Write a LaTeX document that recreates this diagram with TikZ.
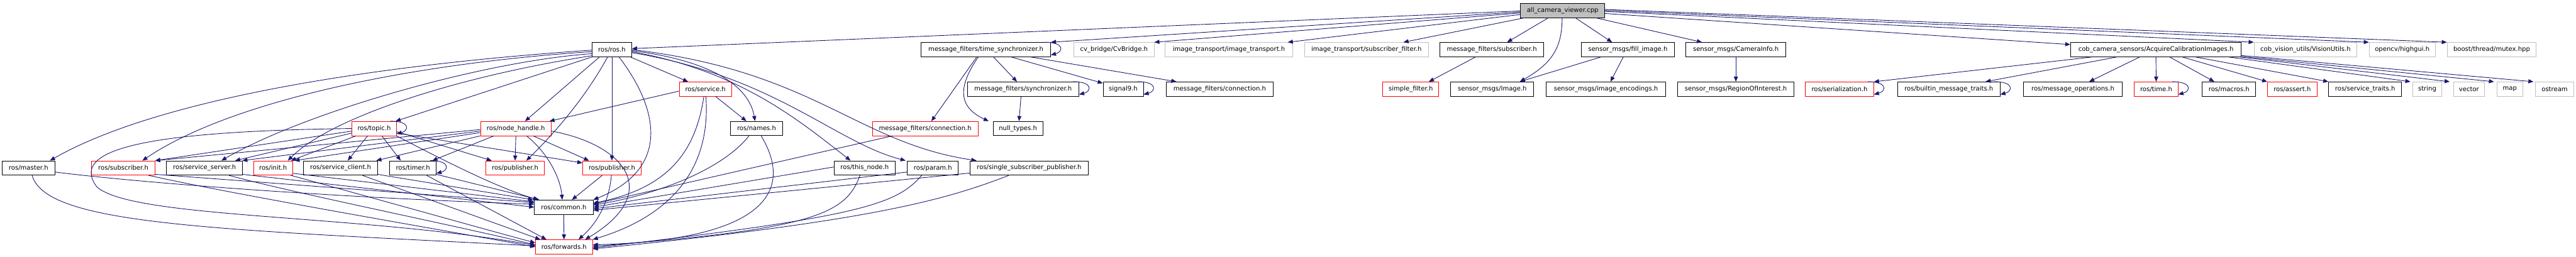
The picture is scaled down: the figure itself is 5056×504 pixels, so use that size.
\documentclass[tikz,border=0pt]{standalone}
\usepackage{fontspec}
\newfontfamily\dv{DejaVu Sans}
\usetikzlibrary{arrows.meta,calc}
\definecolor{eblue}{RGB}{25,25,112}
\definecolor{gry}{RGB}{191,191,191}
\definecolor{rd}{RGB}{255,0,0}
\tikzset{
  nb/.style={draw=black, line width=1.1pt, minimum height=28pt, inner sep=0pt, font=\dv\fontsize{12.4pt}{15pt}\selectfont, text=black},
  nr/.style={nb, draw=rd, line width=0.9pt},
  ng/.style={nb, draw=gry, line width=1pt},
  e/.style={draw=eblue, line width=1.1pt, -{Triangle[length=10pt,width=8pt]}},
}
\newcommand{\slp}[1]{\draw[e] ($(#1.north east)+(-12,0)$) .. controls +(40,0) and +(24,-6) .. ($(#1.south east)+(0,-4)$);}
\begin{document}
\begin{tikzpicture}[x=1pt,y=-1pt]
\useasboundingbox (0,0) rectangle (5056,504);
% Row A
\node[nb, minimum width=165pt, fill=gry] (R) at (3067,20.5) {all\_camera\_viewer.cpp};
% Row B
\node[nb, minimum width=78pt] (ros) at (1201,97.5) {ros/ros.h};
\node[nb, minimum width=254pt] (tsync) at (1935,97.5) {message\_filters/time\_synchronizer.h};
\node[ng, minimum width=157pt] (cvb) at (2186.5,97.5) {cv\_bridge/CvBridge.h};
\node[ng, minimum width=250pt] (itr) at (2412,97.5) {image\_transport/image\_transport.h};
\node[ng, minimum width=244pt] (isf) at (2682,97.5) {image\_transport/subscriber\_filter.h};
\node[nb, minimum width=203pt] (mfs) at (2928,97.5) {message\_filters/subscriber.h};
\node[nb, minimum width=183pt] (fill) at (3195,97.5) {sensor\_msgs/fill\_image.h};
\node[nb, minimum width=196pt] (caminfo) at (3407,97.5) {sensor\_msgs/CameraInfo.h};
\node[nb, minimum width=335pt] (acq) at (4231.5,97.5) {cob\_camera\_sensors/AcquireCalibrationImages.h};
\node[ng, minimum width=202pt] (vis) at (4525,97.5) {cob\_vision\_utils/VisionUtils.h};
\node[ng, minimum width=130pt] (hg) at (4715,97.5) {opencv/highgui.h};
\node[ng, minimum width=175pt] (mutex) at (4890.5,97.5) {boost/thread/mutex.hpp};
% Row C
\node[nr, minimum width=103pt] (srv) at (1384.5,175) {ros/service.h};
\node[nb, minimum width=219pt] (sync) at (2008,175) {message\_filters/synchronizer.h};
\node[nb, minimum width=79pt] (sig9) at (2204.5,175) {signal9.h};
\node[nb, minimum width=209pt] (mfc2) at (2394,175) {message\_filters/connection.h};
\node[nr, minimum width=110pt] (sf) at (2769,175) {simple\_filter.h};
\node[nb, minimum width=163pt] (img) at (2929,175) {sensor\_msgs/Image.h};
\node[nb, minimum width=235pt] (enc) at (3152,175) {sensor\_msgs/image\_encodings.h};
\node[nb, minimum width=228pt] (roi) at (3407,175) {sensor\_msgs/RegionOfInterest.h};
\node[nr, minimum width=134pt] (ser) at (3610.5,175) {ros/serialization.h};
\node[nb, minimum width=201pt] (bmt) at (3825,175) {ros/builtin\_message\_traits.h};
\node[nb, minimum width=193pt] (mops) at (4068.5,175) {ros/message\_operations.h};
\node[nr, minimum width=86pt] (rtime) at (4232,175) {ros/time.h};
\node[nb, minimum width=105pt] (mac) at (4375,175) {ros/macros.h};
\node[nr, minimum width=97pt] (ast) at (4499,175) {ros/assert.h};
\node[nb, minimum width=143pt] (svt) at (4642,175) {ros/service\_traits.h};
\node[ng, minimum width=57pt] (str) at (4764,175) {string};
\node[ng, minimum width=61pt] (vec) at (4846,175) {vector};
\node[ng, minimum width=51pt] (mapn) at (4926,175) {map};
\node[ng, minimum width=76pt] (ost) at (5014,175) {ostream};
% Row D
\node[nr, minimum width=87pt] (topic) at (734.5,252.5) {ros/topic.h};
\node[nr, minimum width=139pt] (nh) at (1012.5,252.5) {ros/node\_handle.h};
\node[nb, minimum width=102pt] (names) at (1485,252.5) {ros/names.h};
\node[nr, minimum width=208pt] (mfc) at (1816,252.5) {message\_filters/connection.h};
\node[nb, minimum width=98pt] (nullt) at (1998,252.5) {null\_types.h};
% Row E
\node[nb, minimum width=103pt] (master) at (56,330) {ros/master.h};
\node[nr, minimum width=124pt] (sub) at (242,330) {ros/subscriber.h};
\node[nb, minimum width=149pt] (ss) at (401.5,330) {ros/service\_server.h};
\node[nr, minimum width=77pt] (init) at (536,330) {ros/init.h};
\node[nb, minimum width=145pt] (sc) at (668.5,330) {ros/service\_client.h};
\node[nb, minimum width=91pt] (timer) at (810.5,330) {ros/timer.h};
\node[nr, minimum width=115pt] (pub1) at (1011,330) {ros/publisher.h};
\node[nr, minimum width=115pt] (pub2) at (1201,330) {ros/publisher.h};
\node[nb, minimum width=120pt] (tnode) at (1697,330) {ros/this\_node.h};
\node[nb, minimum width=100pt] (param) at (1831,330) {ros/param.h};
\node[nb, minimum width=232pt] (ssp) at (2020,330) {ros/single\_subscriber\_publisher.h};
% Row F, G
\node[nb, minimum width=115pt] (common) at (1106.5,407) {ros/common.h};
\node[nr, minimum width=112pt] (fwd) at (1107,485) {ros/forwards.h};

% ---- edges from root
\draw[e] ($(R.west)+(0,1)$) -- ($(ros.east)+(0,-2)$);
\draw[e] ($(R.west)+(0,3)$) -- (tsync.north east);
\draw[e] ($(R.west)+(0,5)$) -- (cvb.north east);
\draw[e] ($(R.west)+(0,8)$) -- ($(itr.north east)+(-10,0)$);
\draw[e] ($(R.south west)+(8,0)$) -- ($(isf.north east)+(-50,0)$);
\draw[e] ($(R.south west)+(55,0)$) -- ($(mfs.north east)+(-72,0)$);
\draw[e] ($(R.south)+(-1,0)$) .. controls (3066,95) and (3045,125) .. ($(img.north east)+(-28,0)$);
\draw[e] ($(R.south)+(25,0)$) -- ($(fill.north)+(-31,0)$);
\draw[e] ($(R.south east)+(-18,0)$) -- ($(caminfo.north west)+(32,0)$);
\draw[e] ($(R.east)+(0,6)$) -- ($(acq.west)+(0,-10)$);
\draw[e] ($(R.east)+(0,2)$) -- (vis.north west);
\draw[e] ($(R.east)+(0,0)$) -- (hg.north west);
\draw[e] ($(R.east)+(0,-2)$) -- (mutex.north west);
% ---- Acquire
\draw[e] ($(acq.south west)+(42,0)$) -- (ser.north east);
\draw[e] ($(acq.south west)+(91,0)$) -- ($(bmt.north east)+(-29,0)$);
\draw[e] ($(acq.south)+(-32,0)$) -- ($(mops.north)+(32,0)$);
\draw[e] (acq.south) -- (rtime.north);
\draw[e] ($(acq.south)+(27,0)$) -- ($(mac.north)+(-29,0)$);
\draw[e] ($(acq.south)+(52,0)$) -- (ast.north west);
\draw[e] ($(acq.south)+(78,0)$) -- (svt.north west);
\draw[e] ($(acq.south east)+(-25,0)$) -- ($(str.north west)+(-4,0)$);
\draw[e] ($(acq.south east)+(-3,0)$) -- ($(vec.north west)+(-7,0)$);
\draw[e] ($(acq.south east)+(0,-1)$) -- ($(mapn.north west)+(-5,0)$);
\draw[e] ($(acq.south east)+(0,-3)$) -- ($(ost.north west)+(-3,0)$);
% ---- self loops
\slp{ser} \slp{bmt} \slp{rtime} \slp{tsync} \slp{sync} \slp{sig9} \slp{topic} \slp{timer}
% ---- ros.h
\draw[e] ($(ros.west)+(0,1)$) .. controls (700,130) and (300,200) .. ($(master.north east)+(-10,0)$);
\draw[e] ($(ros.west)+(0,4)$) .. controls (800,125) and (450,200) .. ($(sub.north east)+(-25,0)$);
\draw[e] ($(ros.west)+(0,8)$) .. controls (950,120) and (600,220) .. ($(ss.north east)+(-42,0)$);
\draw[e] ($(ros.west)+(0,12)$) .. controls (900,150) and (650,230) .. ($(init.north east)+(-10,0)$);
\draw[e] (ros.south west) -- ($(topic.north east)+(-2,0)$);
\draw[e] ($(ros.south west)+(15,0)$) -- ($(nh.north)+(18,0)$);
\draw[e] ($(ros.south west)+(31,0)$) .. controls (1150,190) and (1090,260) .. ($(pub1.north)+(22,0)$);
\draw[e] (ros.south) -- (pub2.north);
\draw[e] ($(ros.south)+(14,0)$) .. controls (1290,210) and (1320,330) .. (common.north east);
\draw[e] ($(ros.south east)+(-3,0)$) -- ($(srv.north west)+(18,0)$);
\draw[e] ($(ros.east)+(0,2)$) .. controls (1400,120) and (1470,170) .. ($(names.north)+(-3,0)$);
\draw[e] ($(ros.east)+(0,4)$) .. controls (1450,140) and (1560,230) .. ($(tnode.north west)+(33,0)$);
\draw[e] ($(ros.east)+(0,6)$) .. controls (1520,150) and (1640,280) .. ($(param.north west)+(-3,0)$);
\draw[e] (ros.east) .. controls (1600,140) and (1680,280) .. ($(ssp.north west)+(13,0)$);
% ---- topic.h
\draw[e] ($(topic.west)+(0,5)$) -- (sub.north east);
\draw[e] ($(topic.west)+(0,9)$) -- ($(ss.north east)+(-15,0)$);
\draw[e] ($(topic.south west)+(8,0)$) -- ($(init.north east)+(-4,0)$);
\draw[e] ($(topic.south)+(-13,0)$) -- ($(sc.north)+(14,0)$);
\draw[e] ($(topic.south)+(15,0)$) -- ($(timer.north)+(-24,0)$);
\draw[e] (topic.south east) .. controls (880,320) and (980,370) .. ($(common.north west)+(8,0)$);
\draw[e] ($(topic.east)+(0,6)$) -- ($(pub1.north west)+(12,0)$);
\draw[e] ($(topic.east)+(0,9)$) -- ($(pub2.west)+(0,-10)$);
\draw[e] (topic.west) .. controls (250,258) and (140,300) .. (190,367) .. controls (260,430) and (700,420) .. ($(fwd.west)+(0,-3)$);
% ---- node_handle.h
\draw[e] ($(nh.west)+(0,2)$) -- (sub.north east);
\draw[e] ($(nh.west)+(0,5)$) -- ($(ss.north east)+(-1,0)$);
\draw[e] ($(nh.west)+(0,8)$) -- ($(init.north east)+(3,0)$);
\draw[e] (nh.south west) -- ($(sc.north east)+(-3,0)$);
\draw[e] ($(nh.south west)+(27,0)$) -- ($(timer.north east)+(-8,0)$);
\draw[e] (nh.south) -- (pub1.north);
\draw[e] ($(nh.south east)+(-36,0)$) -- ($(pub2.north west)+(13,0)$);
\draw[e] ($(nh.south)+(21,0)$) .. controls (1075,300) and (1100,350) .. ($(common.north)+(-3,0)$);
\draw[e] ($(nh.east)+(0,5)$) .. controls (1230,285) and (1300,380) .. ($(fwd.north east)+(-15,0)$);
% ---- service.h
\draw[e] ($(srv.west)+(0,4)$) -- ($(nh.north east)+(-4,0)$);
\draw[e] ($(srv.south east)+(-32,0)$) -- ($(names.north)+(-20,0)$);
\draw[e] ($(srv.south)+(-3,0)$) .. controls (1365,300) and (1310,370) .. ($(common.east)+(0,-8)$);
\draw[e] ($(srv.south)+(1,0)$) .. controls (1395,320) and (1330,420) .. (fwd.north east);
% ---- names.h
\draw[e] ($(names.south)+(-15,0)$) .. controls (1420,330) and (1300,380) .. ($(common.east)+(0,-4)$);
\draw[e] ($(names.south)+(9,0)$) .. controls (1550,360) and (1530,470) .. ($(fwd.east)+(0,-4)$);
% ---- this_node, param, ssp, mfc
\draw[e] ($(tnode.west)+(0,-2)$) -- (common.east);
\draw[e] ($(tnode.south)+(-9,0)$) .. controls (1660,420) and (1600,450) .. ($(fwd.east)+(0,-1)$);
\draw[e] ($(param.west)+(0,8)$) -- ($(common.east)+(0,3)$);
\draw[e] ($(param.south)+(-22,0)$) .. controls (1760,400) and (1700,425) .. ($(fwd.east)+(0,2)$);
\draw[e] ($(ssp.west)+(0,10)$) -- ($(common.east)+(0,6)$);
\draw[e] ($(ssp.south)+(-40,0)$) .. controls (1850,395) and (1700,435) .. ($(fwd.east)+(0,4)$);
\draw[e] ($(mfc.south west)+(40,0)$) -- ($(common.east)+(0,-6)$);
% ---- publisher #2, common
\draw[e] ($(pub2.south)+(-19,0)$) -- ($(common.north east)+(-42,0)$);
\draw[e] ($(pub2.south)+(-1,0)$) .. controls (1195,400) and (1170,440) .. ($(fwd.north east)+(-28,0)$);
\draw[e] (common.south) -- (fwd.north);
% ---- row E to common
\draw[e] ($(master.east)+(0,8)$) .. controls (300,362) and (700,390) .. ($(common.west)+(0,-6)$);
\draw[e] ($(sub.south east)+(0,-2)$) -- ($(common.west)+(0,-9)$);
\draw[e] ($(ss.south east)+(0,-2)$) -- (common.west);
\draw[e] ($(init.south east)+(0,-4)$) -- ($(common.north west)+(0,4)$);
\draw[e] ($(sc.south east)+(0,-2)$) -- ($(common.north west)+(-2,0)$);
\draw[e] ($(timer.south east)+(0,-2)$) -- ($(common.north west)+(10,0)$);
% ---- row E to forwards
\draw[e] ($(master.south)+(7,0)$) .. controls (90,440) and (400,450) .. ($(fwd.west)+(0,-2)$);
\draw[e] ($(sub.south east)+(-13,0)$) .. controls (450,380) and (800,440) .. (fwd.west);
\draw[e] ($(ss.south)+(48,0)$) .. controls (580,380) and (880,440) .. ($(fwd.west)+(0,-4)$);
\draw[e] ($(init.south east)+(-4,0)$) .. controls (700,380) and (950,450) .. ($(fwd.west)+(0,-8)$);
\draw[e] ($(sc.south)+(43,0)$) -- ($(fwd.north west)+(10,0)$);
\draw[e] ($(timer.south)+(27,0)$) -- ($(fwd.north west)+(22,0)$);
% ---- message filters etc.
\draw[e] ($(tsync.south)+(-18,0)$) -- ($(mfc.north)+(12,0)$);
\draw[e] ($(tsync.south)+(-15,0)$) .. controls (1880,170) and (1880,210) .. ($(nullt.north west)+(-8,0)$);
\draw[e] ($(tsync.south)+(15,0)$) -- ($(sync.north)+(-12,0)$);
\draw[e] ($(tsync.south)+(50,0)$) -- ($(sig9.north west)+(0,3)$);
\draw[e] ($(tsync.south east)+(-39,0)$) -- ($(mfc2.north west)+(20,0)$);
\draw[e] ($(sync.south)+(-4,0)$) -- ($(nullt.north)+(2,0)$);
\draw[e] ($(mfs.south)+(-32,0)$) -- ($(sf.north east)+(-20,0)$);
\draw[e] ($(fill.south)+(-53,0)$) -- ($(img.north east)+(-28,0)$);
\draw[e] ($(fill.south)+(-9,0)$) -- ($(enc.north)+(9,0)$);
\draw[e] (caminfo.south) -- (roi.north);
\end{tikzpicture}
\end{document}
